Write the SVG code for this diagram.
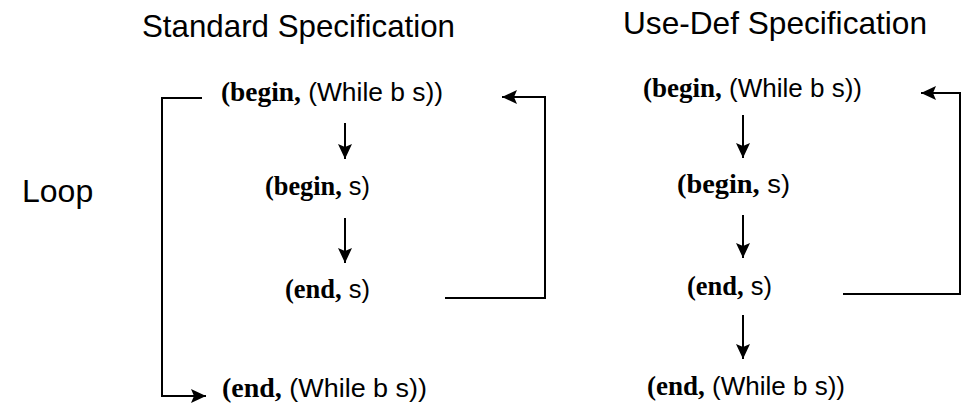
<svg xmlns="http://www.w3.org/2000/svg" width="965" height="411" viewBox="0 0 965 411">
  <style>
    .title { font-family: "Liberation Sans", Arial, sans-serif; font-size: 32px; fill: #000; }
    .node { font-family: "Liberation Sans", Arial, sans-serif; font-size: 26px; fill: #000; }
    .kw { font-family: "Liberation Serif", "Times New Roman", serif; font-weight: bold; font-size: 27px; }
    .edge { fill: none; stroke: #000; stroke-width: 2; }
  </style>
  <defs>
    <marker id="arrow" markerUnits="userSpaceOnUse" markerWidth="18" markerHeight="18" viewBox="0 0 18 18" refX="16" refY="9" orient="auto">
      <path d="M1,2 L16,9 L1,16 L4,9 Z" fill="#000"/>
    </marker>
  </defs>

  <rect width="965" height="411" fill="#fff"/>

  <!-- headings -->
  <text class="title" x="142" y="37" textLength="313" lengthAdjust="spacingAndGlyphs">Standard Specification</text>
  <text class="title" x="623" y="34" textLength="304" lengthAdjust="spacingAndGlyphs">Use-Def Specification</text>
  <text class="title" x="22" y="202">Loop</text>

  <!-- standard specification nodes -->
  <g id="std-begin-while">
    <text class="node" x="221" y="101" textLength="222" lengthAdjust="spacingAndGlyphs"><tspan class="kw">(begin,</tspan> (While b s))</text>
  </g>
  <g id="std-begin-s">
    <text class="node" x="265" y="195" textLength="105" lengthAdjust="spacingAndGlyphs"><tspan class="kw">(begin,</tspan> s)</text>
  </g>
  <g id="std-end-s">
    <text class="node" x="285" y="298" textLength="85" lengthAdjust="spacingAndGlyphs"><tspan class="kw">(end,</tspan> s)</text>
  </g>
  <g id="std-end-while">
    <text class="node" x="222" y="397" textLength="205" lengthAdjust="spacingAndGlyphs"><tspan class="kw">(end,</tspan> (While b s))</text>
  </g>

  <!-- use-def specification nodes -->
  <g id="ud-begin-while">
    <text class="node" x="643" y="97" textLength="219" lengthAdjust="spacingAndGlyphs"><tspan class="kw">(begin,</tspan> (While b s))</text>
  </g>
  <g id="ud-begin-s">
    <text class="node" x="677" y="193" textLength="113" lengthAdjust="spacingAndGlyphs"><tspan class="kw">(begin,</tspan> s)</text>
  </g>
  <g id="ud-end-s">
    <text class="node" x="687" y="295" textLength="85" lengthAdjust="spacingAndGlyphs"><tspan class="kw">(end,</tspan> s)</text>
  </g>
  <g id="ud-end-while">
    <text class="node" x="647" y="395" textLength="198" lengthAdjust="spacingAndGlyphs"><tspan class="kw">(end,</tspan> (While b s))</text>
  </g>

  <!-- connectors -->
  <g id="connectors">
    <!-- standard -->
    <path class="edge" d="M345,123 V159" marker-end="url(#arrow)"/>
    <path class="edge" d="M345,218 V263" marker-end="url(#arrow)"/>
    <path class="edge" d="M202,98 H162 V396 H206" marker-end="url(#arrow)"/>
    <path class="edge" d="M445,298 H545 V97 H502" marker-end="url(#arrow)"/>
    <!-- use-def -->
    <path class="edge" d="M743,115 V158" marker-end="url(#arrow)"/>
    <path class="edge" d="M743,215 V258" marker-end="url(#arrow)"/>
    <path class="edge" d="M743,315 V359" marker-end="url(#arrow)"/>
    <path class="edge" d="M843,294 H960 V93 H921" marker-end="url(#arrow)"/>
  </g>
</svg>
